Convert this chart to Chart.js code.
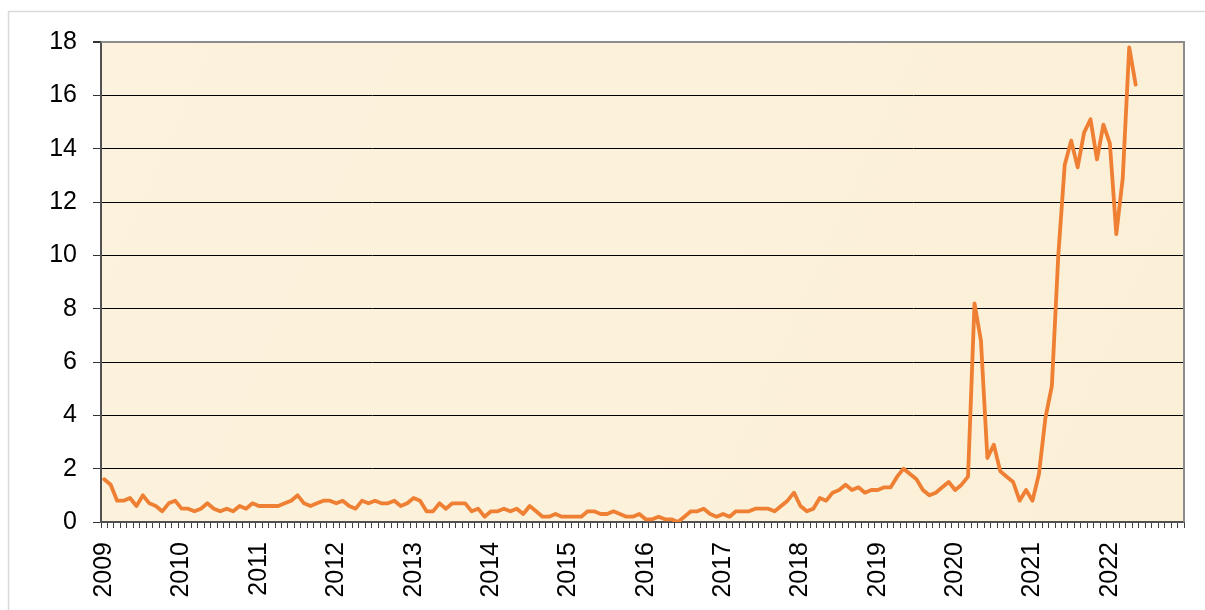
<!DOCTYPE html>
<html>
<head>
<meta charset="utf-8">
<script src="https://cdn.jsdelivr.net/npm/chart.js@4/dist/chart.umd.min.js"></script>
<style>
  html, body { margin: 0; padding: 0; background: #fff; }
  #wrap { width: 1205px; height: 610px; }
</style>
</head>
<body>
<div id="wrap"><canvas id="myChart" width="1205" height="610"></canvas></div>
<script>
// years on the axis (monthly categories, Jan 2009 .. Dec 2022)
const years = [2009, 2010, 2011, 2012, 2013, 2014, 2015, 2016, 2017, 2018, 2019, 2020, 2021, 2022];

// monthly values, one row per year
const values = [
  1.6, 1.4, 0.8, 0.8, 0.9, 0.6, 1.0, 0.7, 0.6, 0.4, 0.7, 0.8,
  0.5, 0.5, 0.4, 0.5, 0.7, 0.5, 0.4, 0.5, 0.4, 0.6, 0.5, 0.7,
  0.6, 0.6, 0.6, 0.6, 0.7, 0.8, 1.0, 0.7, 0.6, 0.7, 0.8, 0.8,
  0.7, 0.8, 0.6, 0.5, 0.8, 0.7, 0.8, 0.7, 0.7, 0.8, 0.6, 0.7,
  0.9, 0.8, 0.4, 0.4, 0.7, 0.5, 0.7, 0.7, 0.7, 0.4, 0.5, 0.2,
  0.4, 0.4, 0.5, 0.4, 0.5, 0.3, 0.6, 0.4, 0.2, 0.2, 0.3, 0.2,
  0.2, 0.2, 0.2, 0.4, 0.4, 0.3, 0.3, 0.4, 0.3, 0.2, 0.2, 0.3,
  0.1, 0.1, 0.2, 0.1, 0.1, 0.0, 0.2, 0.4, 0.4, 0.5, 0.3, 0.2,
  0.3, 0.2, 0.4, 0.4, 0.4, 0.5, 0.5, 0.5, 0.4, 0.6, 0.8, 1.1,
  0.6, 0.4, 0.5, 0.9, 0.8, 1.1, 1.2, 1.4, 1.2, 1.3, 1.1, 1.2,
  1.2, 1.3, 1.3, 1.7, 2.0, 1.8, 1.6, 1.2, 1.0, 1.1, 1.3, 1.5,
  1.2, 1.4, 1.7, 8.2, 6.8, 2.4, 2.9, 1.9, 1.7, 1.5, 0.8, 1.2,
  0.8, 1.8, 3.9, 5.1, 10.0, 13.4, 14.3, 13.3, 14.6, 15.1, 13.6, 14.9,
  14.2, 10.8, 12.9, 17.8, 16.4
];

const yMin = 0, yMax = 18, yStep = 2;

var labels = [];
years.forEach((y) => {
  for (var m = 1; m <= 12; m++) labels.push(y + "-" + String(m).padStart(2, "0"));
});

const fontFamily = "'Liberation Sans', Arial, sans-serif";

// white page, light frame, parchment plot area
const backdrop = {
  id: "backdrop",
  beforeDraw(chart) {
    const ctx = chart.ctx, a = chart.chartArea;
    ctx.save();
    ctx.fillStyle = "#fff";
    ctx.fillRect(0, 0, chart.width, chart.height);
    ctx.strokeStyle = "#d9d9d9";
    ctx.lineWidth = 1.5;
    ctx.strokeRect(8.5, 11.5, chart.width + 10, chart.height + 10);
    var g = ctx.createLinearGradient(a.left, a.top, a.right, a.bottom);
    g.addColorStop(0, "#fcf2dd");
    g.addColorStop(0.5, "#fcf1da");
    g.addColorStop(1, "#fbefd7");
    ctx.fillStyle = g;
    ctx.fillRect(a.left, a.top, a.right - a.left, a.bottom - a.top);
    ctx.restore();
  },
  beforeDatasetsDraw(chart) {
    const ctx = chart.ctx, a = chart.chartArea;
    ctx.save();
    ctx.strokeStyle = "#8c8c8c";
    ctx.lineWidth = 2;
    ctx.beginPath();
    ctx.moveTo(a.left, a.top);
    ctx.lineTo(a.right, a.top);
    ctx.lineTo(a.right, a.bottom);
    ctx.stroke();
    ctx.restore();
  },
};

new Chart(document.getElementById("myChart").getContext("2d"), {
  type: "line",
  data: {
    labels: labels,
    datasets: [
      {
        data: values,
        borderColor: "#ee7f33",
        borderWidth: 3.8,
        borderJoinStyle: "round",
        borderCapStyle: "round",
        pointRadius: 0,
        tension: 0,
        fill: false,
      },
    ],
  },
  options: {
    responsive: false,
    animation: false,
    layout: { padding: { top: 42, right: 21, left: 0, bottom: 0 } },
    plugins: { legend: { display: false }, tooltip: { enabled: false } },
    scales: {
      x: {
        offset: true,
        afterFit: (s) => {
          s.height = 88;
          s.paddingLeft = 0;
          s.paddingRight = 0;
        },
        grid: {
          offset: true,
          drawOnChartArea: false,
          tickLength: 6,
          color: "#404040",
        },
        border: { color: "#505050", width: 2 },
        ticks: {
          autoSkip: false,
          maxRotation: 90,
          minRotation: 90,
          padding: 14,
          color: "#000",
          font: { family: fontFamily, size: 25 },
          callback: function (val) {
            var lab = this.getLabelForValue(val);
            return lab.endsWith("-01") ? lab.slice(0, 4) : "";
          },
        },
      },
      y: {
        min: yMin,
        max: yMax,
        afterFit: (s) => { s.width = 101; },
        grid: {
          color: (c) => (c.tick && c.tick.value === yMax ? "#8c8c8c" : "#000"),
          lineWidth: (c) => (c.tick && c.tick.value === yMax ? 2 : 1),
          tickColor: "#333",
          tickLength: 8,
        },
        border: { color: "#505050", width: 2 },
        ticks: {
          stepSize: yStep,
          padding: 16,
          color: "#000",
          font: { family: fontFamily, size: 25 },
        },
      },
    },
  },
  plugins: [backdrop],
});
</script>
</body>
</html>
